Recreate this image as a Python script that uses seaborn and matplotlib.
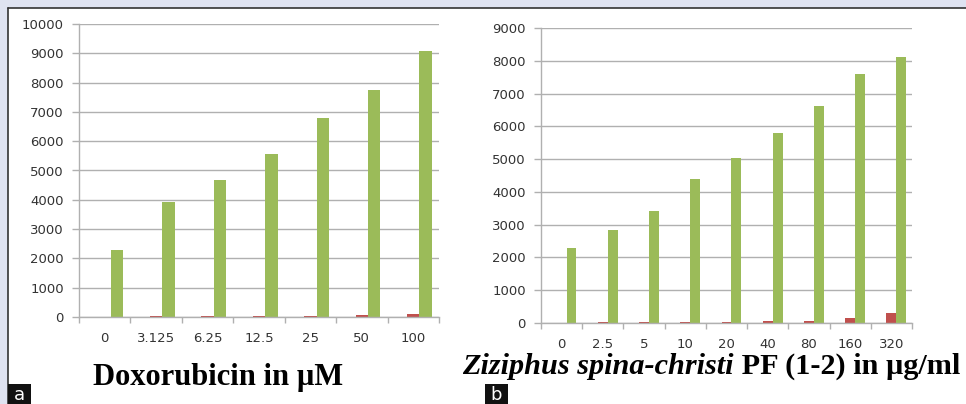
import matplotlib
matplotlib.use('Agg')
import matplotlib.pyplot as plt
import seaborn as sns
import pandas as pd
from matplotlib.patches import Rectangle
from matplotlib.lines import Line2D
from matplotlib.ticker import FixedLocator, MultipleLocator

# ---------------- data ----------------
doxo_conc = ['0', '3.125', '6.25', '12.5', '25', '50', '100']
doxo_s1 = [0, 0, 0, 0, 0, 0, 0]
doxo_s2 = [0, 20, 20, 20, 20, 55, 100]
doxo_s3 = [2270, 3920, 4690, 5550, 6800, 7760, 9070]

zsc_conc = ['0', '2.5', '5', '10', '20', '40', '80', '160', '320']
zsc_s1 = [0, 0, 0, 0, 0, 0, 0, 0, 0]
zsc_s2 = [0, 20, 20, 20, 20, 50, 70, 165, 310]
zsc_s3 = [2280, 2830, 3430, 4400, 5040, 5810, 6610, 7600, 8130]

series_names = ['Series1', 'Series2', 'Series3']
series_colors = ['#4F81BD', '#C0504D', '#9BBB59']


def long_df(conc, s1, s2, s3):
    rows = []
    for vals, name in zip([s1, s2, s3], series_names):
        for c, v in zip(conc, vals):
            rows.append({'conc': c, 'series': name, 'value': v})
    return pd.DataFrame(rows)


sns.set_style('white')
plt.rcParams['font.family'] = ['DejaVu Sans']

W, H = 966, 404
fig = plt.figure(figsize=(W / 100, H / 100), dpi=100)
fig.patch.set_facecolor('#dfe3f1')

# white panel with dark top/left border
fig.patches.append(Rectangle((8 / W, 0), 1 - 8 / W, 1 - 8 / H, transform=fig.transFigure,
                             facecolor='white', edgecolor='none', zorder=-5))
fig.lines.append(Line2D([8 / W, 1], [1 - 8 / H, 1 - 8 / H], transform=fig.transFigure,
                        color='#333333', lw=1.2, zorder=-4))
fig.lines.append(Line2D([8 / W, 8 / W], [0, 1 - 8 / H], transform=fig.transFigure,
                        color='#333333', lw=1.2, zorder=-4))


def fx(px):
    return px / W


def fy(px):
    return 1 - px / H


def draw_panel(rect_px, conc, s1, s2, s3, ymax):
    l, r, t, b = rect_px
    ax = fig.add_axes([fx(l), fy(b), fx(r) - fx(l), fy(t) - fy(b)])
    df = long_df(conc, s1, s2, s3)
    sns.barplot(data=df, x='conc', y='value', hue='series', order=conc,
                hue_order=series_names, palette=series_colors, width=0.72,
                gap=0, legend=False, ax=ax, saturation=1, linewidth=0)
    n = len(conc)
    ax.set_xlim(-0.5, n - 0.5)
    ax.set_ylim(0, ymax)
    ax.yaxis.set_major_locator(MultipleLocator(1000))
    ax.set_facecolor('none')
    ax.grid(axis='y', color='#b0b0b0', lw=1.0)
    ax.grid(axis='x', visible=False)
    ax.set_axisbelow(True)
    for s in ['top', 'right']:
        ax.spines[s].set_visible(False)
    for s in ['left', 'bottom']:
        ax.spines[s].set_color('#b0b0b0')
        ax.spines[s].set_linewidth(1.0)
    ax.set_xlabel('')
    ax.set_ylabel('')
    ax.tick_params(axis='y', which='major', direction='out', length=5, width=1,
                   color='#b0b0b0', labelsize=9.5, labelcolor='#333333', pad=6, left=True)
    ax.tick_params(axis='x', which='major', length=0, labelsize=9.5,
                   labelcolor='#333333', pad=11)
    ax.xaxis.set_minor_locator(FixedLocator([i - 0.5 for i in range(n + 1)]))
    ax.tick_params(axis='x', which='minor', direction='out', length=4, width=1,
                   color='#b0b0b0', bottom=True)
    return ax


ax1 = draw_panel((79, 439, 24, 317), doxo_conc, doxo_s1, doxo_s2, doxo_s3, 10000)
ax2 = draw_panel((541, 912, 28, 323), zsc_conc, zsc_s1, zsc_s2, zsc_s3, 9000)

# x-axis titles
fig.text(fx(218), fy(377), 'Doxorubicin in µM', ha='center', va='center', color='black',
         family='Liberation Serif', fontweight='bold', fontsize=22)

t1 = fig.text(fx(462), fy(366), 'Ziziphus spina-christi', ha='left', va='center', color='black',
              family='Liberation Serif', fontweight='bold', fontstyle='italic', fontsize=21.8)
fig.canvas.draw()
bb = t1.get_window_extent(renderer=fig.canvas.get_renderer())
fig.text(bb.x1 / W + 0.001, fy(366), ' PF (1-2) in µg/ml', ha='left', va='center', color='black',
         family='Liberation Serif', fontweight='bold', fontsize=21.8)

# panel letters
for x0, letter in [(8, 'a'), (485, 'b')]:
    fig.patches.append(Rectangle((fx(x0), 0), 23 / W, 20 / H, transform=fig.transFigure,
                                 facecolor='#111111', edgecolor='none', zorder=5))
    fig.text(fx(x0 + 11.5), fy(395), letter, ha='center', va='center', color='white',
             fontsize=13, zorder=6)

fig.savefig('out.png', dpi=100, facecolor=fig.get_facecolor())
